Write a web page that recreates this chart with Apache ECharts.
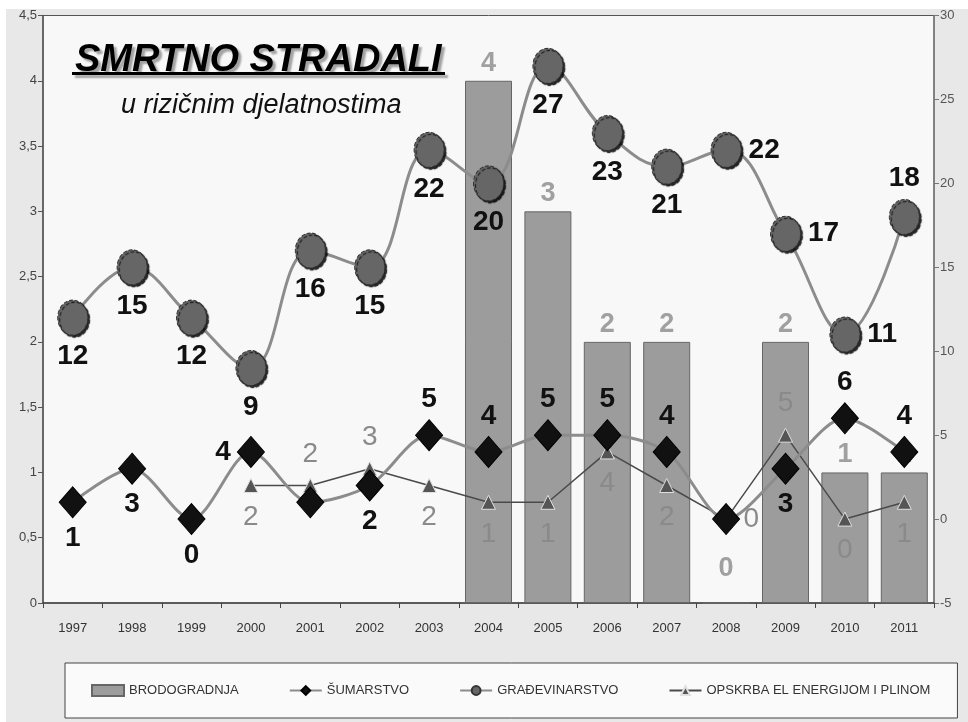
<!DOCTYPE html>
<html><head><meta charset="utf-8">
<script src="https://cdn.jsdelivr.net/npm/echarts@6/dist/echarts.min.js"></script>
<style>html,body{margin:0;padding:0;background:#fff;} #c{position:absolute;left:6px;top:9px;width:962px;height:713px;}</style>
</head><body><div id="c"></div>
<script>
const years = ['1997','1998','1999','2000','2001','2002','2003','2004','2005','2006','2007','2008','2009','2010','2011'];
const brodogradnja = [null,null,null,null,null,null,null,4,3,2,2,0,2,1,1];
const sumarstvo = [1,3,0,4,1,2,5,4,5,5,4,0,3,6,4];
const gradevinarstvo = [12,15,12,9,16,15,22,20,27,23,21,22,17,11,18];
const opskrba = [null,null,null,2,2,3,2,1,1,4,2,0,5,0,1];
const seriesNames = ['BRODOGRADNJA','ŠUMARSTVO','GRAĐEVINARSTVO','OPSKRBA EL ENERGIJOM I PLINOM'];
const leftAxis = {min:0, max:4.5, interval:0.5};
const rightAxis = {min:-5, max:30, interval:5};

// label placements (style, not data)
const sumPos = ['bottom','bottom','bottom','left',null,'bottom','top','top','top','top','top',null,'bottom','top','top'];
const gradPos = ['bottom','bottom','bottom','bottom','bottom','bottom','bottom','bottom','bottom','bottom','bottom','right','right','right','top'];
const opsPos = [null,null,null,'bottom','top','top','bottom','bottom','bottom','bottom','bottom','right','top','bottom','bottom'];

const SANS = '"Liberation Sans",Arial,sans-serif';

function withLabels(values, pos, base) {
  return values.map((v, i) => {
    if (v === null) return null;
    const p = pos[i];
    return {value: v, label: p ? Object.assign({show: true, position: p}, base) : {show: false}};
  });
}

const chart = echarts.init(document.getElementById('c'));
chart.setOption({
  backgroundColor: '#e8e8e8',
  animation: false,
  title: [
    {text: 'SMRTNO STRADALI', left: 64, top: 28,
     textStyle: {fontFamily: SANS, fontSize: 38, fontWeight: 'bold', fontStyle: 'italic', color: '#000',
       textShadowColor: 'rgba(0,0,0,0.35)', textShadowOffsetX: 3, textShadowOffsetY: 3, textShadowBlur: 2}},
    {text: 'u rizičnim djelatnostima', left: 110, top: 78,
     textStyle: {fontFamily: SANS, fontSize: 27, fontWeight: 'normal', fontStyle: 'italic', color: '#111'}}
  ],
  graphic: [
    {type: 'rect', shape: {x: 66, y: 63, width: 373, height: 3}, style: {fill: '#000', shadowColor: 'rgba(0,0,0,0.35)', shadowOffsetX: 3, shadowOffsetY: 3, shadowBlur: 2}, z: 10}
  ],
  grid: {left: 37, top: 3, right: 34, bottom: 119, show: true, backgroundColor: '#f8f8f8', borderColor: '#555', borderWidth: 1},
  legend: {
    left: 59, top: 654, padding: [21, 27, 21, 26], itemWidth: 32, itemHeight: 11, itemGap: 50,
    backgroundColor: '#fafafa', borderColor: '#444', borderWidth: 1,
    textStyle: {fontFamily: SANS, fontSize: 13, color: '#333'},
    data: [{name: seriesNames[0], icon: 'rect'}, seriesNames[1], seriesNames[2], seriesNames[3]]
  },
  xAxis: {
    type: 'category', data: years, boundaryGap: true,
    axisLine: {lineStyle: {color: '#444', width: 1.5}},
    axisTick: {show: true, length: 5, lineStyle: {color: '#444'}},
    axisLabel: {fontFamily: SANS, fontSize: 13, color: '#333', margin: 19}
  },
  yAxis: [
    {type: 'value', min: leftAxis.min, max: leftAxis.max, interval: leftAxis.interval, position: 'left',
     splitLine: {show: false},
     axisLine: {show: true, lineStyle: {color: '#555', width: 1.5}},
     axisTick: {show: true, length: 5, lineStyle: {color: '#555'}},
     axisLabel: {fontFamily: SANS, fontSize: 13, color: '#444', margin: 6,
       formatter: v => String(v).replace('.', ',')}},
    {type: 'value', min: rightAxis.min, max: rightAxis.max, interval: rightAxis.interval, position: 'right',
     splitLine: {show: false},
     axisLine: {show: true, lineStyle: {color: '#777', width: 1.5}},
     axisTick: {show: true, length: 5, lineStyle: {color: '#777'}},
     axisLabel: {fontFamily: SANS, fontSize: 13, color: '#555', margin: 6}}
  ],
  series: [
    {name: seriesNames[0], type: 'bar', yAxisIndex: 0, barWidth: 47,
     itemStyle: {color: '#9c9c9c', borderColor: '#666', borderWidth: 1},
     data: brodogradnja.map(v => v === null ? null : {value: v,
       label: {show: true, position: 'top', distance: v === 0 ? 20 : 4, fontFamily: SANS, fontSize: 27, fontWeight: 'bold', color: '#a0a0a0'}})},
    {name: seriesNames[3], type: 'line', yAxisIndex: 1, z: 3,
     lineStyle: {color: '#4a4a4a', width: 1.5},
     symbol: 'triangle', symbolSize: 14,
     itemStyle: {color: '#555', borderColor: '#e0e0e0', borderWidth: 1},
     data: withLabels(opskrba, opsPos, {distance: 10, fontFamily: SANS, fontSize: 28, color: '#8a8a8a'})},
    {name: seriesNames[1], type: 'line', yAxisIndex: 1, z: 4, smooth: 0.3,
     lineStyle: {color: '#8c8c8c', width: 3},
     symbol: 'diamond', symbolSize: [27, 31],
     itemStyle: {color: '#111', borderColor: '#000', borderWidth: 1},
     data: withLabels(sumarstvo, sumPos, {distance: 6, fontFamily: SANS, fontSize: 28, fontWeight: 'bold', color: '#111'})},
    {name: seriesNames[2], type: 'line', yAxisIndex: 1, z: 5, smooth: 0.4,
     lineStyle: {color: '#8c8c8c', width: 3},
     symbol: 'circle', symbolSize: [30, 35],
     itemStyle: {color: '#666', borderColor: '#333', borderWidth: 1, borderType: 'dashed',
       shadowColor: 'rgba(0,0,0,0.85)', shadowOffsetX: 2, shadowOffsetY: 2, shadowBlur: 1},
     data: withLabels(gradevinarstvo, gradPos, {distance: 7, fontFamily: SANS, fontSize: 28, fontWeight: 'bold', color: '#111'})}
  ]
});
</script></body></html>
